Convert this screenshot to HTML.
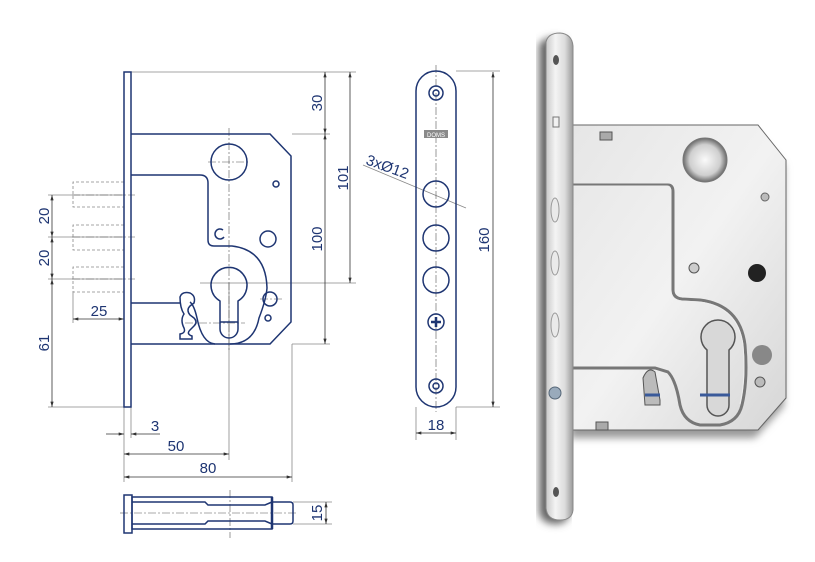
<!DOCTYPE html>
<html><head><meta charset="utf-8"><style>
html,body{margin:0;padding:0;background:#fff}
svg{display:block}
text{font-family:"Liberation Sans",sans-serif;fill:#1e3572;font-size:15px}
</style></head><body>
<svg width="815" height="562" viewBox="0 0 815 562" xmlns="http://www.w3.org/2000/svg">
<defs>
<marker id="a" viewBox="0 0 10 6" refX="10" refY="3" markerWidth="8" markerHeight="4" orient="auto-start-reverse"><path d="M0,0L10,3L0,6z" fill="#333"/></marker>
<linearGradient id="fp" x1="0" x2="1"><stop offset="0" stop-color="#c9c9c9"/><stop offset=".35" stop-color="#f4f4f4"/><stop offset=".7" stop-color="#dcdcdc"/><stop offset="1" stop-color="#9a9a9a"/></linearGradient>
<linearGradient id="bd" x1="0" y1="0" x2="1" y2="1"><stop offset="0" stop-color="#e6e6e6"/><stop offset=".5" stop-color="#f2f2f2"/><stop offset="1" stop-color="#d6d6d6"/></linearGradient>
<radialGradient id="hl"><stop offset="0" stop-color="#fafafa"/><stop offset=".7" stop-color="#cfcfcf"/><stop offset="1" stop-color="#6a6a6a"/></radialGradient>
<filter id="sh"><feGaussianBlur stdDeviation="4"/></filter>
</defs>
<g fill="none" stroke="#888" stroke-width="0.8">
<line x1="131" y1="72" x2="356" y2="72"/>
<line x1="292" y1="134" x2="330" y2="134"/>
<line x1="200" y1="283" x2="356" y2="283"/>
<line x1="292" y1="344" x2="330" y2="344"/>
<line x1="48" y1="195" x2="124" y2="195"/>
<line x1="48" y1="237" x2="124" y2="237"/>
<line x1="48" y1="279" x2="124" y2="279"/>
<line x1="48" y1="407" x2="124" y2="407"/>
<line x1="73" y1="292" x2="73" y2="323"/>
<line x1="124" y1="407" x2="124" y2="482"/>
<line x1="131" y1="407" x2="131" y2="438"/>
<line x1="229" y1="283" x2="229" y2="460"/>
<line x1="292" y1="344" x2="292" y2="482"/>
<line x1="456" y1="71" x2="500" y2="71"/>
<line x1="456" y1="407" x2="500" y2="407"/>
<line x1="416" y1="407" x2="416" y2="440"/>
<line x1="456" y1="407" x2="456" y2="440"/>
<line x1="293" y1="502" x2="332" y2="502"/>
<line x1="293" y1="524" x2="332" y2="524"/>
<line x1="363" y1="165" x2="466" y2="208"/>
</g>
<g stroke="#333" stroke-width="0.8" fill="none" marker-start="url(#a)" marker-end="url(#a)">
<line x1="325" y1="72" x2="325" y2="134"/>
<line x1="325" y1="134" x2="325" y2="344"/>
<line x1="350" y1="72" x2="350" y2="283"/>
<line x1="52" y1="195" x2="52" y2="237"/>
<line x1="52" y1="237" x2="52" y2="279"/>
<line x1="52" y1="279" x2="52" y2="407"/>
<line x1="73" y1="319" x2="124" y2="319"/>
<line x1="124" y1="454" x2="229" y2="454"/>
<line x1="124" y1="477" x2="292" y2="477"/>
<line x1="493" y1="72" x2="493" y2="407"/>
<line x1="416" y1="433" x2="456" y2="433"/>
<line x1="326" y1="502" x2="326" y2="524"/>
</g>
<g stroke="#333" stroke-width="0.8"><line x1="106" y1="434" x2="124" y2="434" marker-end="url(#a)"/><line x1="160" y1="434" x2="131" y2="434" marker-end="url(#a)"/></g>
<text x="317" y="103" transform="rotate(-90 317 103)" text-anchor="middle" dy="5">30</text>
<text x="343" y="178" transform="rotate(-90 343 178)" text-anchor="middle" dy="5">101</text>
<text x="317" y="239" transform="rotate(-90 317 239)" text-anchor="middle" dy="5">100</text>
<text x="44" y="216" transform="rotate(-90 44 216)" text-anchor="middle" dy="5">20</text>
<text x="44" y="258" transform="rotate(-90 44 258)" text-anchor="middle" dy="5">20</text>
<text x="44" y="343" transform="rotate(-90 44 343)" text-anchor="middle" dy="5">61</text>
<text x="99" y="316" text-anchor="middle">25</text>
<text x="155" y="431" text-anchor="middle">3</text>
<text x="176" y="451" text-anchor="middle">50</text>
<text x="208" y="473" text-anchor="middle">80</text>
<text x="484" y="240" transform="rotate(-90 484 240)" text-anchor="middle" dy="5">160</text>
<text x="436" y="430" text-anchor="middle">18</text>
<text x="317" y="513" transform="rotate(-90 317 513)" text-anchor="middle" dy="5">15</text>
<text x="365" y="164" transform="rotate(20 365 164)">3xØ12</text>
<g stroke="#555" stroke-width="0.6" stroke-dasharray="8 2 2 2" fill="none">
<line x1="229" y1="128" x2="229" y2="350"/>
<line x1="208" y1="162" x2="250" y2="162"/>
<line x1="72" y1="195" x2="135" y2="195"/>
<line x1="72" y1="237" x2="135" y2="237"/>
<line x1="72" y1="279" x2="135" y2="279"/>
<line x1="260" y1="299" x2="283" y2="299"/>
<line x1="185" y1="323" x2="245" y2="323"/>
<line x1="436" y1="65" x2="436" y2="412"/>
<line x1="120" y1="513" x2="298" y2="513"/>
<line x1="230" y1="490" x2="230" y2="538"/>
</g>
<g stroke="#888" stroke-width="0.8" stroke-dasharray="3 2" fill="none">
<path d="M124 182H73V207H124M124 225H73V250H124M124 267H73V292H124"/>
</g>
<g stroke="#1e3572" stroke-width="1.5" fill="none">
<rect x="124" y="72" width="7" height="335"/>
<path d="M131 134H270L291 156V322L270 344H131"/>
<path d="M131 175H200Q208 175 208 183V240Q208 246 214 246H232Q266 250 267 288Q266 300 259 318Q254 344 230 344"/>
<path d="M131 303H180M215 344Q202 343 197 318Q194 305 190 302"/>
<path d="M180 297Q182 291 190 293Q196 296 194 303L190 306Q186 310 190 315L194 318Q198 322 194 326L190 330Q186 334 192 336V339H180V334Q186 333 184 328Q180 320 184 314Q180 308 180 297Z"/>
<circle cx="229" cy="162" r="18"/>
<circle cx="276" cy="184" r="3"/>
<circle cx="268" cy="239" r="8"/>
<path d="M223 230A5 5 0 1 0 224 237"/>
<path d="M220 301A18 18 0 1 1 238 301V329A9 9 0 0 1 220 329Z"/>
<line x1="220" y1="322" x2="238" y2="322"/>
<circle cx="270" cy="299" r="7"/>
<circle cx="268" cy="318" r="3"/>
<rect x="416" y="71" width="40" height="336" rx="20"/>
<circle cx="436" cy="93" r="7"/><circle cx="436" cy="93" r="3"/>
<circle cx="436" cy="194" r="13"/><circle cx="436" cy="238" r="13"/><circle cx="436" cy="280" r="13"/>
<circle cx="436" cy="322" r="8"/>
<path d="M436 317V327M431 322H441" stroke-width="2.5"/>
<circle cx="436" cy="386" r="7"/><circle cx="436" cy="386" r="3"/>
<rect x="124" y="495" width="8" height="38"/>
<path d="M132 497H272V529H132Z"/>
<path d="M132 502H205L208 505H265L272 502M132 524H205L208 521H265L272 524"/>
<path d="M272 502H290Q293 502 293 505V521Q293 524 290 524H272" />
<line x1="272" y1="497" x2="272" y2="529" stroke-width="2.5"/>
</g>
<rect x="424" y="130" width="24" height="8" fill="#8a8a8a"/>
<text x="436" y="137" font-size="6" text-anchor="middle" style="fill:#fff;font-size:6px">DOMS</text>
<g>
<path d="M545 40Q552 32 565 34Q575 36 575 48V510Q573 520 562 520Q547 520 545 508Z" fill="#666" filter="url(#sh)" transform="translate(-6 4)"/>
<path d="M573 128H758L787 160V400L758 432H573Z" fill="#999" filter="url(#sh)" transform="translate(-3 6)"/>
<path d="M573 125H758L786 160V398L758 430H573Z" fill="url(#bd)" stroke="#666" stroke-width="1"/>
<path d="M573 185H668Q673 185 673 192V290Q673 298 682 299L700 300Q740 305 745 345Q748 380 742 405Q738 422 720 425H700Q684 422 680 405Q676 380 668 372L655 368H573" fill="none" stroke="#777" stroke-width="3"/>
<path d="M573 186H667Q671 186 671 192V290Q671 300 682 301L700 302Q738 307 743 345Q746 378 740 404" fill="none" stroke="#eee" stroke-width="1"/>
<circle cx="705" cy="160" r="22" fill="url(#hl)" stroke="#777"/>
<circle cx="757" cy="273" r="9" fill="#222"/>
<circle cx="694" cy="268" r="5" fill="#ccc" stroke="#555"/>
<circle cx="765" cy="197" r="4" fill="#bbb" stroke="#666"/>
<path d="M707 350A17 17 0 1 1 729 350V405A11 11 0 0 1 707 405Z" fill="#d8d8d8" stroke="#555" stroke-width="1.5"/>
<circle cx="762" cy="355" r="10" fill="#888"/>
<circle cx="760" cy="382" r="5" fill="#bbb" stroke="#555"/>
<path d="M643 378Q648 366 655 372L660 400V405H645Z" fill="#bbb" stroke="#555"/>
<line x1="645" y1="395" x2="660" y2="395" stroke="#3a5a9a" stroke-width="3"/>
<line x1="700" y1="395" x2="730" y2="395" stroke="#3a5a9a" stroke-width="3"/>
<path d="M600 132H612V140H600Z" fill="#aaa" stroke="#555"/>
<path d="M596 422H608V430H596Z" fill="#aaa" stroke="#555"/>
<path d="M546 42Q548 33 560 33Q572 34 573 46V510Q572 520 560 520Q547 520 546 508Z" fill="url(#fp)" stroke="#888"/>
<ellipse cx="556" cy="60" rx="3" ry="5" fill="#555"/>
<ellipse cx="556" cy="492" rx="3" ry="5" fill="#555"/>
<rect x="553" y="117" width="6" height="10" fill="none" stroke="#777"/>
<ellipse cx="555" cy="210" rx="4" ry="12" fill="#eaeaea" stroke="#999"/>
<ellipse cx="555" cy="263" rx="4" ry="12" fill="#eaeaea" stroke="#999"/>
<ellipse cx="555" cy="325" rx="4" ry="12" fill="#eaeaea" stroke="#999"/>
<circle cx="555" cy="393" r="6" fill="#9ab" stroke="#567"/>
</g>
</svg>
</body></html>
